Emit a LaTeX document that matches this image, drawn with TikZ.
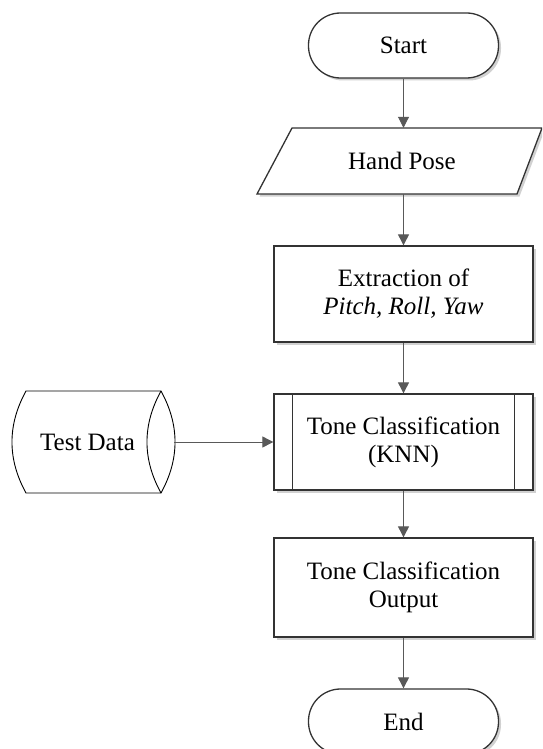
\documentclass[tikz,border=0pt]{standalone}
\usepackage{fontspec}
\setmainfont{Liberation Serif}
\usetikzlibrary{arrows.meta,shadows}
\begin{document}
\begin{tikzpicture}[x=1pt,y=-1pt,
  every node/.style={font=\fontsize{25}{28}\selectfont, align=center, inner sep=0pt},
  shad/.style={drop shadow={shadow xshift=2.5pt,shadow yshift=-2.5pt,fill=black!18,opacity=1}},
  boxline/.style={draw=black!80, line width=1.3pt},
  term/.style={boxline, fill=white, rounded corners=32pt, minimum width=190pt, minimum height=65pt, shad},
  proc/.style={boxline, fill=white, minimum width=259pt, shad},
  arr/.style={draw=black!65, line width=0.9pt, -{Triangle[length=11pt,width=11pt]}}
]
\clip (0,0) rectangle (542,749);
\fill[white] (0,0) rectangle (542,749);
% Start
\node[term] (start) at (403.5,45.5) {Start};
% Hand pose (parallelogram)
\draw[boxline, fill=white, shad] (292,128) -- (542,128) -- (517,194) -- (257,194) -- cycle;
\node[minimum width=255pt, minimum height=66pt] (hand) at (402,161) {Hand Pose};
% Extraction
\node[proc, minimum height=96pt] (extr) at (403.5,294) {Extraction of\\\textit{Pitch, Roll, Yaw}};
% KNN predefined process
\node[proc, minimum height=96pt] (knn) at (403.5,442) {Tone Classification\\(KNN)};
\draw[boxline] ([xshift=19pt]knn.north west) -- ([xshift=19pt]knn.south west);
\draw[boxline] ([xshift=-19pt]knn.north east) -- ([xshift=-19pt]knn.south east);
% Output
\node[proc, minimum height=99pt] (out) at (403.5,587.5) {Tone Classification\\Output};
% End
\node[term] (endt) at (403.5,721.5) {End};
% Test data (horizontal cylinder)
\node[minimum width=173pt, minimum height=102pt] (test) at (87.5,442) {};
\begin{scope}[shift={(test.center)}]
  \draw[black, line width=0.9pt, fill=white]
    (-61.5,-51) -- (73.5,-51)
    .. controls (92.2,-17) and (92.2,17) .. (73.5,51)
    -- (-61.5,51)
    .. controls (-80.2,17) and (-80.2,-17) .. (-61.5,-51) -- cycle;
  \draw[black, line width=0.9pt]
    (73.5,-51) .. controls (54.8,-17) and (54.8,17) .. (73.5,51);
\end{scope}
\node (testlbl) at (test.center) {Test Data};
% connectors
\draw[arr] (start.south) -- (start.south |- hand.north);
\draw[arr] (hand.south -| extr.north) -- (extr.north);
\draw[arr] (extr.south) -- (knn.north);
\draw[arr] (knn.south) -- (out.north);
\draw[arr] (out.south) -- (endt.north);
\draw[arr] (test.east) -- (knn.west);
\end{tikzpicture}
\end{document}
